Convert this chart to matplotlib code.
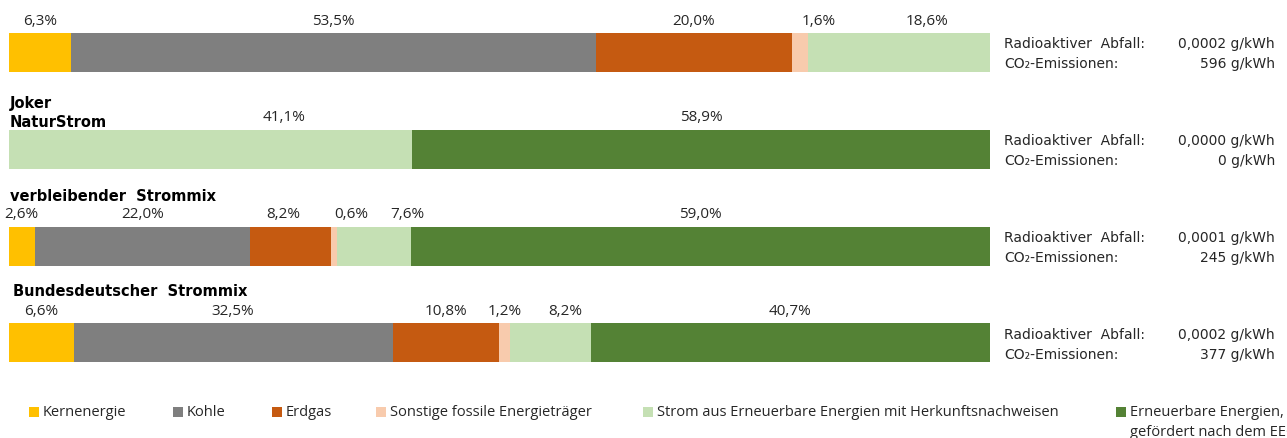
import matplotlib
matplotlib.use("Agg")
import matplotlib.pyplot as plt
import matplotlib.transforms as mtransforms
from matplotlib.patches import Rectangle

# one entry per bar, top to bottom
titles = ["", "Joker\nNaturStrom", "verbleibender  Strommix", "Bundesdeutscher  Strommix"]

series = [
    "Kernenergie",
    "Kohle",
    "Erdgas",
    "Sonstige fossile Energieträger",
    "Strom aus Erneuerbare Energien mit Herkunftsnachweisen",
    "Erneuerbare Energien,\ngefördert nach dem EEG",
]
kernenergie = [6.3, 0.0, 2.6, 6.6]
kohle = [53.5, 0.0, 22.0, 32.5]
erdgas = [20.0, 0.0, 8.2, 10.8]
sonstige = [1.6, 0.0, 0.6, 1.2]
hkn = [18.6, 41.1, 7.6, 8.2]
eeg = [0.0, 58.9, 59.0, 40.7]

abfall = ["0,0002", "0,0000", "0,0001", "0,0002"]
co2 = [596, 0, 245, 377]

colors = ["#FFC000", "#7F7F7F", "#C55A11", "#F8CBAD", "#C5E0B4", "#548235"]

# manual label shifts (percent units) where the labels were moved off-centre
nudge = {(0, 3): 1.9, (0, 4): 2.9, (1, 4): 7.5, (2, 2): -0.7, (2, 3): 1.8,
         (2, 4): 3.4, (3, 4): 1.5}

W, H = 1287, 438
fig = plt.figure(figsize=(W / 100, H / 100), dpi=100)
ax = fig.add_axes([9 / W, 0, 981 / W, 1])

spacing = 96.8
c0 = 52.5
ax.set_xlim(0, 100)
ax.set_ylim((H - c0) / spacing, -c0 / spacing)
ax.axis("off")

values = [kernenergie, kohle, erdgas, sonstige, hkn, eeg]
ypos = list(range(len(titles)))
bar_h = 39 / spacing
left = [0.0] * len(titles)
for si, (vals, col) in enumerate(zip(values, colors)):
    ax.barh(ypos, vals, left=left, height=bar_h, color=col, linewidth=0)
    for bi, v in enumerate(vals):
        if v > 0:
            xc = left[bi] + v / 2 + nudge.get((bi, si), 0)
            ax.annotate(f"{v:.1f}".replace(".", ",") + "%", (xc, bi - bar_h / 2),
                        xytext=(0, 6), textcoords="offset points",
                        ha="center", va="baseline", fontsize=11,
                        family="Open Sans", color="#262626")
    left = [l + v for l, v in zip(left, vals)]

# bar titles
for bi, t in enumerate(titles):
    if t:
        x = 13 if bi == 3 else 10
        ax.annotate(t, (0, bi - bar_h / 2), xycoords="data",
                    xytext=(x - 9, 3 if bi == 1 else 26 if bi == 2 else 27),
                    textcoords="offset pixels", ha="left", va="baseline",
                    fontsize=10.5, fontweight="bold", family="DejaVu Sans",
                    linespacing=1.3, annotation_clip=False)

# right side info
trans = mtransforms.blended_transform_factory(fig.transFigure, ax.transData)
for bi in ypos:
    y1 = bi - 8 / spacing
    y2 = bi + 12 / spacing
    kw = dict(transform=trans, va="center", fontsize=10,
              family=["DejaVu Sans"], color="#262626")
    ax.text(1004 / W, y1, "Radioaktiver  Abfall:", ha="left", **kw)
    ax.text(1275 / W, y1, f"{abfall[bi]} g/kWh", ha="right", **kw)
    ax.text(1004 / W, y2, "CO₂-Emissionen:", ha="left", **kw)
    ax.text(1275 / W, y2, f"{co2[bi]} g/kWh", ha="right", **kw)

# legend, laid out like the original one
leg_x = [29, 173, 272, 376, 643, 1116]
for x, lab, col in zip(leg_x, series, colors):
    fig.patches.append(Rectangle((x / W, 1 - 417 / H), 10 / W, 10 / H,
                                 transform=fig.transFigure, color=col, linewidth=0))
    fig.text((x + 14) / W, 1 - 405 / H, lab, ha="left", va="top",
             fontsize=10.5, family="Open Sans", color="#262626", linespacing=1.5)

fig.savefig("out.png", dpi=100)
